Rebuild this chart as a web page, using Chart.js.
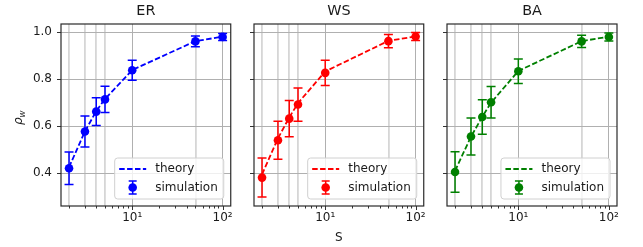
<!DOCTYPE html>
<html>
<head>
<meta charset="utf-8">
<script src="https://cdn.jsdelivr.net/npm/chart.js@4.4.0/dist/chart.umd.min.js"></script>
<style>
  html, body { margin: 0; padding: 0; background: #fff; }
  #wrap { position: relative; width: 643px; height: 247px; }
  canvas { position: absolute; top: 0; }
</style>
</head>
<body>
<div id="wrap">
  <canvas id="c-er" style="left:0px" width="238" height="247"></canvas>
  <canvas id="c-ws" style="left:238px" width="193" height="247"></canvas>
  <canvas id="c-ba" style="left:431px" width="212" height="247"></canvas>
</div>
<script>
// Data
const S = [2, 3, 4, 5, 10, 50, 100];

const erSim = [0.421, 0.577, 0.662, 0.714, 0.838, 0.961, 0.980];
const erErr = [0.069, 0.066, 0.059, 0.056, 0.043, 0.023, 0.015];
const erTheory = [0.425, 0.578, 0.664, 0.716, 0.839, 0.962, 0.981];

const wsSim = [0.381, 0.540, 0.632, 0.692, 0.827, 0.962, 0.982];
const wsErr = [0.083, 0.081, 0.077, 0.071, 0.054, 0.028, 0.017];
const wsTheory = [0.395, 0.548, 0.637, 0.698, 0.833, 0.963, 0.982];

const baSim = [0.405, 0.556, 0.639, 0.702, 0.834, 0.961, 0.980];
const baErr = [0.086, 0.079, 0.073, 0.067, 0.052, 0.026, 0.017];
const baTheory = [0.41, 0.555, 0.640, 0.700, 0.835, 0.962, 0.981];

// Axis ticks
const X_MAJOR = [10, 100];
const X_MINOR = [2, 3, 4, 5, 6, 7, 8, 9, 20, 30, 40, 50, 60, 70, 80, 90];
const X_LABELS = { 10: '10¹', 100: '10²' };
const Y_TICKS = [0.4, 0.6, 0.8, 1.0];

Chart.defaults.font.family = '"DejaVu Sans", sans-serif';
Chart.defaults.color = '#1a1a1a';

const FONT = '"DejaVu Sans", sans-serif';

function makePanel(canvasId, cfg) {
  const { title, sim, err, theory, color, yWidth, padRight, showY, showX } = cfg;

  // error bars under the simulation markers
  const errorBars = {
    id: 'errorBars',
    beforeDatasetDraw(chart, args) {
      if (args.index !== 1) return;
      const c = chart.ctx, xs = chart.scales.x, ys = chart.scales.y;
      c.save();
      c.strokeStyle = color;
      c.lineWidth = 1.5;
      S.forEach((s, i) => {
        const px = xs.getPixelForValue(s);
        const top = ys.getPixelForValue(sim[i] + err[i]);
        const bot = ys.getPixelForValue(sim[i] - err[i]);
        c.beginPath();
        c.moveTo(px, top); c.lineTo(px, bot);
        c.moveTo(px - 4.5, top); c.lineTo(px + 4.5, top);
        c.moveTo(px - 4.5, bot); c.lineTo(px + 4.5, bot);
        c.stroke();
      });
      c.restore();
    }
  };

  // frame, x tick marks, legend, y label
  const decorations = {
    id: 'decorations',
    afterDraw(chart) {
      const c = chart.ctx, a = chart.chartArea, xs = chart.scales.x;
      c.save();
      // x tick marks (major longer than minor)
      c.strokeStyle = '#333';
      c.lineWidth = 1;
      X_MAJOR.concat(X_MINOR).forEach(v => {
        const px = Math.round(xs.getPixelForValue(v)) + 0.5;
        const len = X_MAJOR.includes(v) ? 4 : 2.5;
        c.beginPath();
        c.moveTo(px, a.bottom); c.lineTo(px, a.bottom + len);
        c.stroke();
      });
      // frame
      c.strokeStyle = '#2a2a2a';
      c.lineWidth = 1.2;
      c.strokeRect(a.left, a.top, a.right - a.left, a.bottom - a.top);

      // legend
      c.font = '12px ' + FONT;
      const tw = Math.max(c.measureText('theory').width, c.measureText('simulation').width);
      const w = 40.5 + tw + 6, h = 41;
      const x0 = a.right - 7 - w, y0 = a.bottom - 7 - h;
      const r = 3;
      c.beginPath();
      c.moveTo(x0 + r, y0);
      c.lineTo(x0 + w - r, y0); c.quadraticCurveTo(x0 + w, y0, x0 + w, y0 + r);
      c.lineTo(x0 + w, y0 + h - r); c.quadraticCurveTo(x0 + w, y0 + h, x0 + w - r, y0 + h);
      c.lineTo(x0 + r, y0 + h); c.quadraticCurveTo(x0, y0 + h, x0, y0 + h - r);
      c.lineTo(x0, y0 + r); c.quadraticCurveTo(x0, y0, x0 + r, y0);
      c.closePath();
      c.fillStyle = 'rgba(255,255,255,0.8)';
      c.fill();
      c.strokeStyle = '#d0d0d0';
      c.lineWidth = 1;
      c.stroke();

      c.strokeStyle = color;
      c.lineWidth = 1.8;
      c.setLineDash([5.5, 2.4]);
      c.beginPath();
      c.moveTo(x0 + 4.5, y0 + 11); c.lineTo(x0 + 31.5, y0 + 11);
      c.stroke();
      c.setLineDash([]);

      const cx = x0 + 18, cy = y0 + 29.5;
      c.lineWidth = 1.5;
      c.beginPath();
      c.moveTo(cx, cy - 6.5); c.lineTo(cx, cy + 6.5);
      c.moveTo(cx - 4, cy - 6.5); c.lineTo(cx + 4, cy - 6.5);
      c.moveTo(cx - 4, cy + 6.5); c.lineTo(cx + 4, cy + 6.5);
      c.stroke();
      c.fillStyle = color;
      c.beginPath(); c.arc(cx, cy, 4.3, 0, Math.PI * 2); c.fill();

      c.fillStyle = '#1a1a1a';
      c.textAlign = 'left';
      c.textBaseline = 'middle';
      c.fillText('theory', x0 + 40.5, y0 + 11);
      c.fillText('simulation', x0 + 40.5, cy);

      // y axis label rho_w
      if (showY) {
        c.translate(19, 118);
        c.rotate(-Math.PI / 2);
        c.textBaseline = 'alphabetic';
        c.font = 'italic 12px ' + FONT;
        c.fillText('ρ', -7, 3);
        const rw = c.measureText('ρ').width;
        c.font = 'italic 8.5px ' + FONT;
        c.fillText('w', -7 + rw, 5.5);
      }
      c.restore();
    }
  };

  const vGridColor = v => {
    if (X_MAJOR.includes(v)) return '#b0b0b0';
    if (S.includes(v)) return '#d6d6d6';
    return 'rgba(0,0,0,0)';
  };

  return new Chart(document.getElementById(canvasId), {
    type: 'line',
    data: {
      datasets: [
        {
          label: 'theory',
          data: S.map((s, i) => ({ x: s, y: theory[i] })),
          borderColor: color,
          borderWidth: 1.8,
          borderDash: [5.5, 2.4],
          pointRadius: 0,
          fill: false,
          tension: 0,
          order: 2
        },
        {
          label: 'simulation',
          data: S.map((s, i) => ({ x: s, y: sim[i] })),
          showLine: false,
          pointRadius: 4.3,
          pointBackgroundColor: color,
          pointBorderColor: color,
          pointBorderWidth: 0,
          order: 1
        }
      ]
    },
    options: {
      responsive: false,
      animation: false,
      devicePixelRatio: 1,
      layout: { padding: { left: 0, right: padRight, top: 0, bottom: 0 } },
      plugins: {
        legend: { display: false },
        tooltip: { enabled: false },
        title: {
          display: true,
          text: title,
          fullSize: false,
          color: '#1a1a1a',
          font: { size: 14.4, weight: 'normal', family: FONT, lineHeight: 1.2 },
          padding: { top: 3, bottom: 3.72 }
        }
      },
      scales: {
        x: {
          type: 'logarithmic',
          min: 1.63,
          max: 123,
          afterBuildTicks: s => { s.ticks = X_MINOR.concat(X_MAJOR).sort((a, b) => a - b).map(v => ({ value: v })); },
          afterFit: s => { s.height = 41; },
          border: { display: false },
          grid: {
            drawTicks: false,
            color: ctx => vGridColor(ctx.tick ? ctx.tick.value : null),
            lineWidth: ctx => (ctx.tick && S.includes(ctx.tick.value) && !X_MAJOR.includes(ctx.tick.value)) ? 1.8 : 1
          },
          ticks: {
            autoSkip: false,
            maxRotation: 0,
            padding: 5,
            color: '#1a1a1a',
            font: { size: 12 },
            callback: v => X_LABELS[v] || ''
          },
          title: {
            display: showX,
            text: 'S',
            color: '#1a1a1a',
            font: { size: 12 },
            padding: { top: 0, bottom: 2 }
          }
        },
        y: {
          min: 0.26,
          max: 1.035,
          afterBuildTicks: s => { s.ticks = Y_TICKS.map(v => ({ value: v })); },
          afterFit: s => { s.width = yWidth; },
          border: { display: false },
          grid: { color: '#b0b0b0', lineWidth: 1, tickLength: 4, tickColor: '#333', tickWidth: 1 },
          ticks: {
            padding: 5,
            color: '#1a1a1a',
            font: { size: 12 },
            callback: v => showY ? Number(v).toFixed(1) : ''
          }
        }
      }
    },
    plugins: [errorBars, decorations]
  });
}

makePanel('c-er', { title: 'ER', sim: erSim, err: erErr, theory: erTheory, color: '#0000ff', yWidth: 61, padRight: 7, showY: true, showX: false });
makePanel('c-ws', { title: 'WS', sim: wsSim, err: wsErr, theory: wsTheory, color: '#ff0000', yWidth: 16, padRight: 7, showY: false, showX: true });
makePanel('c-ba', { title: 'BA', sim: baSim, err: baErr, theory: baTheory, color: '#008000', yWidth: 16, padRight: 26, showY: false, showX: false });
</script>
</body>
</html>
